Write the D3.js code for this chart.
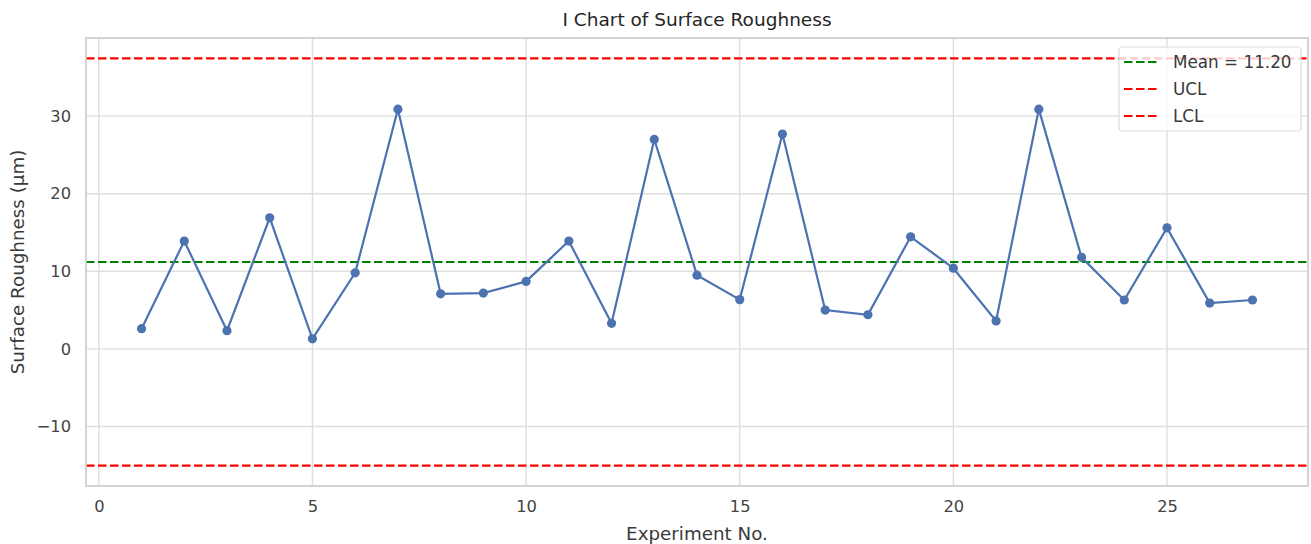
<!DOCTYPE html>
<html>
<head>
<meta charset="utf-8">
<script src="https://cdn.jsdelivr.net/npm/d3@7"></script>
<style>
  body { margin: 0; background: #fff; }
  svg text { font-family: "DejaVu Sans", sans-serif; fill: #3a3a3a; }
</style>
</head>
<body>
<svg width="1311" height="544"></svg>
<script>
let experiments = d3.range(1, 28);
let roughness = [2.6, 13.9, 2.35, 16.9, 1.3, 9.8, 30.9, 7.1, 7.2, 8.7,
                 13.9, 3.3, 27.0, 9.5, 6.35, 27.7, 5.0, 4.4, 14.45, 10.4,
                 3.6, 30.9, 11.8, 6.3, 15.6, 5.9, 6.3];

let meanValue = 11.20;
let uclValue = 37.45;
let lclValue = -15.05;

let xTicks = [0, 5, 10, 15, 20, 25];
let yTicks = [-10, 0, 10, 20, 30];

let refLines = [
  {label: "Mean = " + meanValue.toFixed(2), value: meanValue, color: "#008000"},
  {label: "UCL", value: uclValue, color: "#ff0000"},
  {label: "LCL", value: lclValue, color: "#ff0000"}
];

let svg = d3.select("svg");
var padding = {t: 38, r: 3, b: 58, l: 86};
var chartWidth = +svg.attr("width") - padding.l - padding.r;
var chartHeight = +svg.attr("height") - padding.t - padding.b;

var data = experiments.map(function(e, i) { return {x: e, y: roughness[i]}; });

// matplotlib style 5% margins
var xPad = (d3.max(experiments) - d3.min(experiments)) * 0.05;
var x = d3.scaleLinear()
  .domain([d3.min(experiments) - xPad, d3.max(experiments) + xPad])
  .range([0, chartWidth]);

var yPad = (uclValue - lclValue) * 0.05;
var y = d3.scaleLinear()
  .domain([lclValue - yPad, uclValue + yPad])
  .range([chartHeight, 0]);

let chartG = svg.append("g")
  .attr("transform", "translate(" + padding.l + "," + padding.t + ")");

// grid
chartG.append("g")
  .selectAll("line")
  .data(xTicks)
  .join("line")
    .attr("x1", function(d) { return x(d); })
    .attr("x2", function(d) { return x(d); })
    .attr("y1", 0)
    .attr("y2", chartHeight)
    .attr("stroke", "#dedede")
    .attr("stroke-width", 1.4);

chartG.append("g")
  .selectAll("line")
  .data(yTicks)
  .join("line")
    .attr("x1", 0)
    .attr("x2", chartWidth)
    .attr("y1", function(d) { return y(d); })
    .attr("y2", function(d) { return y(d); })
    .attr("stroke", "#dedede")
    .attr("stroke-width", 1.4);

// axes (labels only, ticks hidden like seaborn whitegrid)
var xAxis = chartG.append("g")
  .attr("transform", "translate(0," + chartHeight + ")")
  .call(d3.axisBottom(x).tickValues(xTicks).tickSize(0).tickPadding(14));
var yAxis = chartG.append("g")
  .call(d3.axisLeft(y).tickValues(yTicks).tickSize(0).tickPadding(15)
    .tickFormat(function(d) { return d < 0 ? "\u2212" + Math.abs(d) : d; }));
[xAxis, yAxis].forEach(function(a) {
  a.select(".domain").remove();
  a.selectAll("text")
    .attr("font-family", "DejaVu Sans")
    .style("font-size", "16.3px")
    .style("fill", "#444");
});

// reference lines
chartG.append("g")
  .selectAll("line")
  .data(refLines)
  .join("line")
    .attr("x1", 0)
    .attr("x2", chartWidth)
    .attr("y1", function(d) { return y(d.value); })
    .attr("y2", function(d) { return y(d.value); })
    .attr("stroke", function(d) { return d.color; })
    .attr("stroke-width", 2.2)
    .attr("stroke-dasharray", "8.5,3.5");

// series
var line = d3.line()
  .x(function(d) { return x(d.x); })
  .y(function(d) { return y(d.y); });

chartG.append("path")
  .datum(data)
  .attr("d", line)
  .attr("fill", "none")
  .attr("stroke", "#4c72b0")
  .attr("stroke-width", 2.2);

chartG.append("g")
  .selectAll("circle")
  .data(data)
  .join("circle")
    .attr("cx", function(d) { return x(d.x); })
    .attr("cy", function(d) { return y(d.y); })
    .attr("r", 4.6)
    .attr("fill", "#4c72b0");

// frame
chartG.append("rect")
  .attr("width", chartWidth)
  .attr("height", chartHeight)
  .attr("fill", "none")
  .attr("stroke", "#d0d0d0")
  .attr("stroke-width", 1.8);

// legend
let legendG = chartG.append("g")
  .attr("transform", "translate(" + (chartWidth - 189) + ",9)");
legendG.append("rect")
  .attr("width", 182)
  .attr("height", 84)
  .attr("rx", 3)
  .attr("fill", "rgba(255,255,255,0.8)")
  .attr("stroke", "#dcdcdc")
  .attr("stroke-width", 1.2);
let items = legendG.selectAll("g.item")
  .data(refLines)
  .join("g")
    .attr("class", "item")
    .attr("transform", function(d, i) { return "translate(0," + (15 + i * 27) + ")"; });
items.append("line")
  .attr("x1", 5)
  .attr("x2", 40)
  .attr("stroke", function(d) { return d.color; })
  .attr("stroke-width", 2.2)
  .attr("stroke-dasharray", "8.5,3.5");
items.append("text")
  .attr("x", 54)
  .attr("dy", "0.36em")
  .style("font-size", "16.8px")
  .text(function(d) { return d.label; });

// titles
svg.append("text")
  .attr("x", padding.l + chartWidth / 2)
  .attr("y", 26)
  .attr("text-anchor", "middle")
  .style("font-size", "18.5px")
  .style("fill", "#262626")
  .text("I Chart of Surface Roughness");

svg.append("text")
  .attr("x", padding.l + chartWidth / 2)
  .attr("y", 540)
  .attr("text-anchor", "middle")
  .style("font-size", "18.3px")
  .text("Experiment No.");

svg.append("text")
  .attr("transform", "translate(24," + (padding.t + chartHeight / 2) + ") rotate(-90)")
  .attr("text-anchor", "middle")
  .style("font-size", "18.3px")
  .text("Surface Roughness (\u00b5m)");
</script>
</body>
</html>
